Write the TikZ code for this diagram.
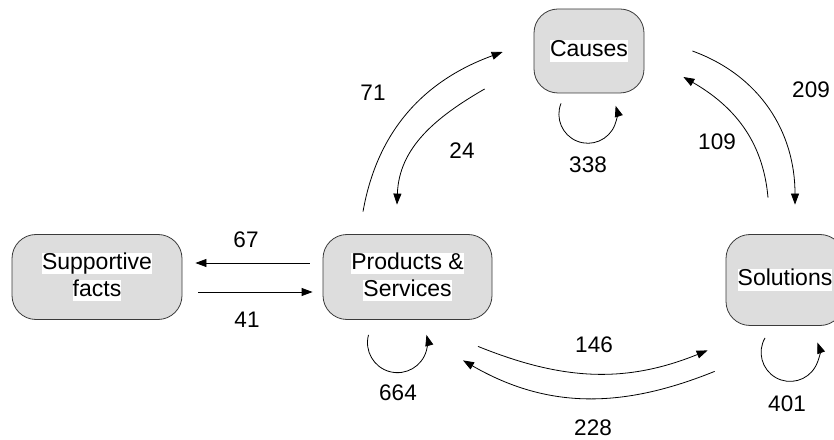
\documentclass[tikz,border=0pt]{standalone}
\usepackage{fontspec}
\setmainfont{Liberation Sans}
\usetikzlibrary{arrows.meta}
\definecolor{boxfill}{HTML}{DDDDDD}
\definecolor{boxline}{HTML}{3A3A3A}
\newcommand\hlw[1]{{\setlength{\fboxsep}{0pt}\colorbox{white}{\rule[-0.22em]{0pt}{0.95em}#1}}}
\begin{document}
\begin{tikzpicture}[x=1pt,y=1pt,
  box/.style={draw=boxline, fill=boxfill, rounded corners=24pt, line width=0.8pt, inner sep=0pt, align=center, font=\fontsize{23}{27}\selectfont},
  lbl/.style={inner sep=0pt, font=\fontsize{22.5}{26}\selectfont},
  arr/.style={-{Triangle[length=11pt,width=8pt]}, line width=0.8pt}]
\useasboundingbox (0,0) rectangle (834,439);
% nodes
\node[box, minimum width=170pt, minimum height=85pt] (S) at (97,162) {\hlw{Supportive}\\\hlw{facts}};
\node[box, minimum width=169pt, minimum height=85pt] (P) at (407.5,162) {\hlw{Products \&}\\\hlw{Services}};
\node[box, minimum width=110pt, minimum height=84pt] (C) at (589,388) {\hlw{Causes}};
\node[box, minimum width=118pt, minimum height=91pt] (So) at (785,159) {\hlw{Solutions}};
% connectors
\draw[arr, shorten <=13pt, shorten >=13pt] ([yshift=14pt]P.west) -- ([yshift=14pt]S.east);
\draw[arr, shorten <=16pt, shorten >=10pt] ([yshift=-15pt]S.east) -- ([yshift=-15pt]P.west);
\draw[arr] ([xshift=-44.5pt,yshift=22.5pt]P.north) to[out=80,in=200] ([xshift=-31pt,yshift=-1pt]C.west);
\draw[arr] ([xshift=-49pt,yshift=-38pt]C.west) to[out=210,in=88] ([xshift=-10.5pt,yshift=29.5pt]P.north);
\draw[arr] ([xshift=48pt]C.east) to[out=-20,in=90] ([xshift=10pt,yshift=29.5pt]So.north);
\draw[arr] ([xshift=-17pt,yshift=36.5pt]So.north) to[out=95,in=-30] ([xshift=39pt,yshift=-26pt]C.east);
\draw[arr] ([xshift=70.5pt,yshift=-26.5pt]P.south) to[out=-22,in=202] ([xshift=-18pt,yshift=-24.5pt]So.south west);
\draw[arr] ([xshift=-11pt,yshift=-45.5pt]So.south west) to[out=202,in=-30] ([xshift=55.5pt,yshift=-40.5pt]P.south);
% self loops
\draw[arr] ([xshift=-39pt,yshift=-15pt]P.south) arc[start angle=165,end angle=375,radius=30pt];
\draw[arr] ([xshift=-28pt,yshift=-10pt]C.south) arc[start angle=158,end angle=377,radius=29pt];
\draw[arr] ([xshift=-20pt,yshift=-12pt]So.south) arc[start angle=150,end angle=380,radius=29pt];
% labels
\node[lbl] (l67) at (246,199) {67};
\node[lbl] (l41) at (247,119) {41};
\node[lbl] (l664) at (398,46) {664};
\node[lbl] (l338) at (588,274) {338};
\node[lbl] (l146) at (594,94) {146};
\node[lbl] (l228) at (593,11) {228};
\node[lbl] (l209) at (811,349) {209};
\node[lbl] (l401) at (787,35) {401};
\node[lbl] (l71) at (373,346) {71};
\node[lbl] (l24) at (462,288) {24};
\node[lbl] (l109) at (717,297) {109};
\end{tikzpicture}
\end{document}
